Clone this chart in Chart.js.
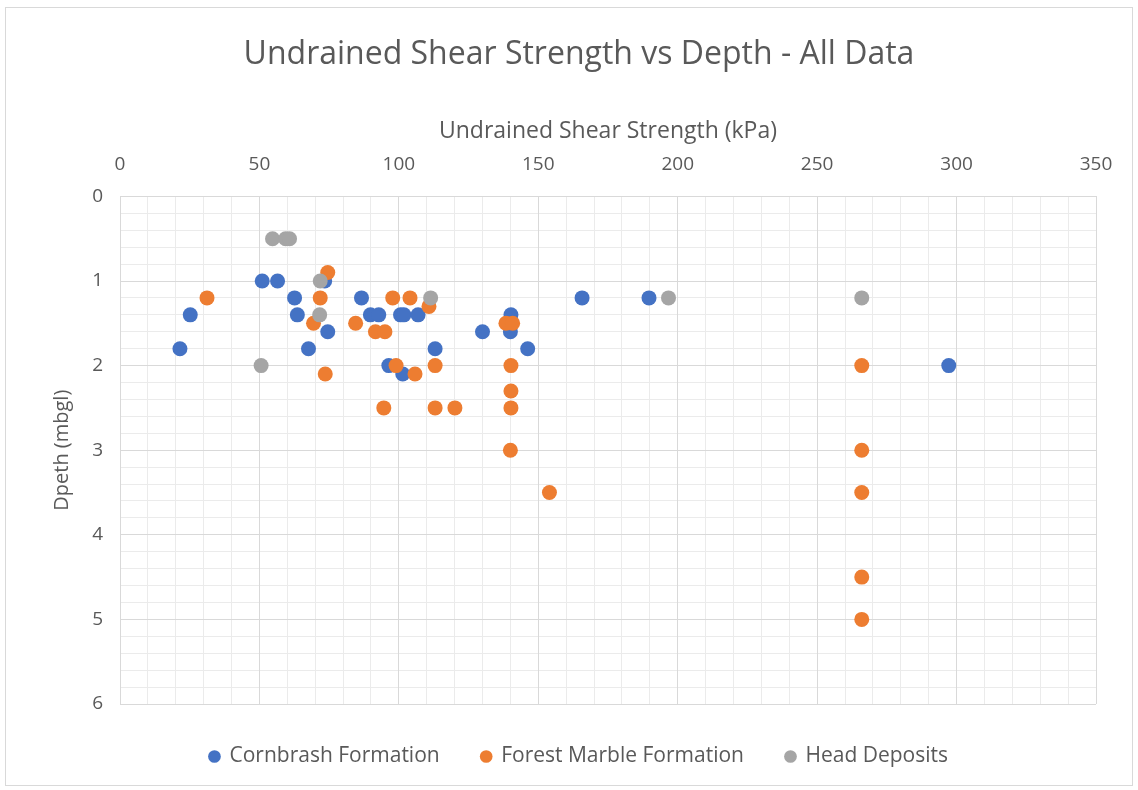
<!DOCTYPE html>
<html>
<head>
<meta charset="utf-8">
<script src="https://cdn.jsdelivr.net/npm/chart.js@4"></script>
<style>
  html, body { margin: 0; padding: 0; background: #fff; }
  #wrap { position: relative; width: 1138px; height: 790px; }
  #frame { position: absolute; left: 5px; top: 7px; width: 1126px; height: 777px;
           border: 1px solid #d9d9d9; pointer-events: none; }
</style>
</head>
<body>
<div id="wrap">
  <canvas id="shearChart" width="1138" height="790"></canvas>
  <div id="frame"></div>
</div>
<script>
// Veri: su (kPa) ve derinlik (mbgl)
const cornbrashSu    = [51, 56.5, 73.4, 25.2, 62.6, 63.6, 74.5, 86.6, 89.8, 92.8, 100.6, 101.8, 106.9, 21.5, 67.6, 96.4, 101.4, 113, 140.2, 140, 130, 146.2, 165.7, 189.7, 297.2];
const cornbrashDepth = [1.0, 1.0, 1.0, 1.4, 1.2, 1.4, 1.6, 1.2, 1.4, 1.4, 1.4, 1.4, 1.4, 1.8, 1.8, 2.0, 2.1, 1.8, 1.4, 1.6, 1.6, 1.8, 1.2, 1.2, 2.0];

const forestSu    = [74.5, 31.2, 71.8, 69.4, 97.8, 104, 110.8, 84.5, 91.6, 95, 73.6, 99, 105.8, 113, 138.4, 140.8, 140.2, 140.2, 94.6, 113, 120.1, 140.2, 140, 154, 266, 266, 266, 266, 266];
const forestDepth = [0.9, 1.2, 1.2, 1.5, 1.2, 1.2, 1.3, 1.5, 1.6, 1.6, 2.1, 2.0, 2.1, 2.0, 1.5, 1.5, 2.0, 2.3, 2.5, 2.5, 2.5, 2.5, 3.0, 3.5, 2.0, 3.0, 3.5, 4.5, 5.0];

const headSu    = [54.7, 59.4, 60.8, 71.8, 111.4, 71.6, 50.6, 196.7, 266];
const headDepth = [0.5, 0.5, 0.5, 1.0, 1.2, 1.4, 2.0, 1.2, 1.2];

const seriesNames = ["Cornbrash Formation", "Forest Marble Formation", "Head Deposits"];

const toPoints = (xs, ys) => xs.map((x, i) => ({ x: x, y: ys[i] }));

const textColor = '#595959';
const majorGrid = '#d9d9d9';
const minorGrid = '#ebebeb';
const fontFam = '"Open Sans", "Noto Sans", sans-serif';

const ctx = document.getElementById('shearChart').getContext('2d');
new Chart(ctx, {
    type: 'scatter',
    data: {
        datasets: [
            { label: seriesNames[0], data: toPoints(cornbrashSu, cornbrashDepth), backgroundColor: '#4472C4', order: 3 },
            { label: seriesNames[1], data: toPoints(forestSu, forestDepth), backgroundColor: '#ED7D31', order: 2 },
            { label: seriesNames[2], data: toPoints(headSu, headDepth), backgroundColor: '#A5A5A5', order: 1 }
        ]
    },
    options: {
        responsive: false,
        animation: false,
        events: [],
        layout: { padding: { left: 20, right: 0, top: 0, bottom: 13 } },
        elements: { point: { radius: 7.5, borderWidth: 0, pointStyle: 'circle' } },
        plugins: {
            title: {
                display: true,
                text: 'Undrained Shear Strength vs Depth - All Data',
                color: textColor,
                font: { family: fontFam, size: 32, weight: 'normal' },
                padding: { top: 36, bottom: 8 }
            },
            legend: {
                position: 'bottom',
                labels: {
                    color: textColor,
                    font: { family: fontFam, size: 21 },
                    usePointStyle: true,
                    boxWidth: 9,
                    boxHeight: 9,
                    padding: 42,
                    sort: (a, b) => a.datasetIndex - b.datasetIndex
                }
            },
            tooltip: { enabled: false }
        },
        scales: {
            x: {
                type: 'linear',
                position: 'top',
                min: 0, max: 350,
                ticks: { stepSize: 50, color: textColor, padding: 20, font: { family: fontFam, size: 19 } },
                grid: { color: majorGrid, drawTicks: false },
                border: { display: false },
                title: {
                    display: true,
                    text: 'Undrained Shear Strength (kPa)',
                    color: textColor,
                    font: { family: fontFam, size: 23 },
                    padding: { top: 35, bottom: 0 }
                },
                afterFit: s => { s.height = 114; }
            },
            y: {
                type: 'linear',
                position: 'left',
                reverse: true,
                min: 0, max: 6,
                ticks: { stepSize: 1, color: textColor, padding: 17, font: { family: fontFam, size: 19 } },
                grid: { color: majorGrid, drawTicks: false },
                border: { display: false },
                title: {
                    display: true,
                    text: 'Dpeth (mbgl)',
                    color: textColor,
                    font: { family: fontFam, size: 20 },
                    padding: { top: 30, bottom: 0 }
                },
                afterFit: s => { s.width = 100; }
            },
            // ara ızgara çizgileri
            xMinor: {
                type: 'linear',
                position: 'top',
                min: 0, max: 350,
                ticks: { display: false, stepSize: 10, maxTicksLimit: 100 },
                grid: { color: minorGrid, drawTicks: false, z: -2 },
                border: { display: false }
            },
            yMinor: {
                type: 'linear',
                position: 'right',
                reverse: true,
                min: 0, max: 6,
                ticks: { display: false, stepSize: 0.2, maxTicksLimit: 100 },
                grid: { color: minorGrid, drawTicks: false, z: -2 },
                border: { display: false },
                afterFit: s => { s.width = 42; }
            }
        }
    }
});
</script>
</body>
</html>
